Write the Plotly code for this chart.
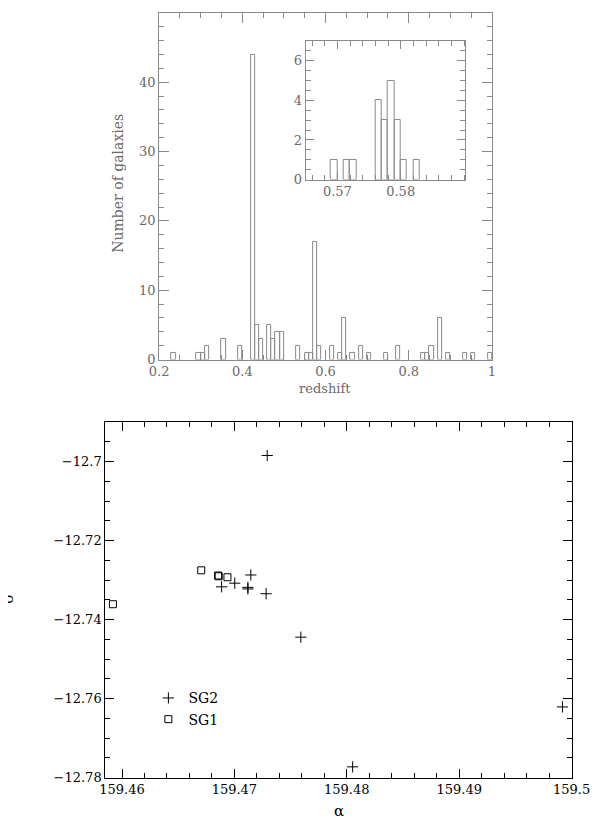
import plotly.graph_objects as go

# ---------------- data ----------------
# main histogram: lower bin edges (bin width 0.01) and counts
hist_bin_lo = [0.23, 0.29, 0.30, 0.31, 0.35, 0.39, 0.42, 0.43, 0.44, 0.46, 0.47,
               0.48, 0.49, 0.53, 0.55, 0.56, 0.57, 0.58, 0.61, 0.63, 0.64, 0.66,
               0.68, 0.70, 0.74, 0.77, 0.83, 0.84, 0.85, 0.87, 0.89, 0.93, 0.95, 0.99]
hist_counts = [1, 1, 1, 2, 3, 2, 44, 5, 3, 5, 3,
               4, 4, 2, 1, 1, 17, 2, 2, 1, 6, 1,
               2, 1, 1, 2, 1, 1, 2, 6, 1, 1, 1, 1]
hist_bin_width = 0.01

# inset histogram: lower bin edges (bin width 0.001) and counts
inset_bin_lo = [0.569, 0.571, 0.572, 0.576, 0.577, 0.578, 0.579, 0.580, 0.582]
inset_counts = [1, 1, 1, 4, 3, 5, 3, 1, 1]
inset_bin_width = 0.001

# sky positions
sg2_alpha = [159.47292, 159.47146, 159.46886, 159.47003, 159.47120, 159.47120,
             159.47282, 159.47591, 159.48052, 159.49919]
sg2_delta = [-12.69842, -12.72867, -12.73167, -12.73075, -12.73180, -12.73220,
             -12.73342, -12.74442, -12.77725, -12.76208]
sg1_alpha = [159.46705, 159.46855, 159.46860, 159.46938, 159.45919]
sg1_delta = [-12.72750, -12.72880, -12.72900, -12.72925, -12.73608]

# ---------------- styling ----------------
W, H = 600, 820
GREY = "#8a8a8a"
GREY_TXT = "#6a6a6a"
FONT = "DejaVu Serif"


def px_x(p):
    return p / W


def px_y(p):
    return (H - p) / H


fig = go.Figure()

fig.add_trace(go.Bar(
    x=hist_bin_lo, y=hist_counts, width=hist_bin_width, offset=0,
    marker=dict(color="rgba(255,255,255,0)", line=dict(color=GREY, width=1)),
    xaxis="x", yaxis="y", showlegend=False, hoverinfo="skip"))

fig.add_trace(go.Bar(
    x=inset_bin_lo, y=inset_counts, width=inset_bin_width, offset=0,
    marker=dict(color="rgba(255,255,255,0)", line=dict(color=GREY, width=1)),
    xaxis="x2", yaxis="y2", showlegend=False, hoverinfo="skip"))

fig.add_trace(go.Scatter(
    x=sg2_alpha, y=sg2_delta, mode="markers", name="SG2",
    marker=dict(symbol="cross-thin", size=8, line=dict(color="black", width=1), color="black"),
    xaxis="x3", yaxis="y3"))

fig.add_trace(go.Scatter(
    x=sg1_alpha, y=sg1_delta, mode="markers", name="SG1",
    marker=dict(symbol="square-open", size=7, line=dict(color="black", width=1), color="black"),
    xaxis="x3", yaxis="y3"))

# empty traces that only create the twin (tick-only) frames of each panel
for xa, ya in (("x4", "y4"), ("x5", "y5"), ("x6", "y6")):
    fig.add_trace(go.Scatter(x=[], y=[], mode="markers", xaxis=xa, yaxis=ya,
                             showlegend=False, hoverinfo="skip"))


def axis(domain, rng, color, txtcolor, anchor, ticklen, minor_dtick, dtick=None,
         tick0=0, tickvals=None, minorlen=5, side=None, labels=True):
    d = dict(domain=domain, range=rng, showline=True, linecolor=color, linewidth=1,
             mirror="ticks", ticks="inside", ticklen=ticklen, tickcolor=color,
             tickwidth=1, showgrid=False, zeroline=False, fixedrange=True,
             showticklabels=labels,
             tickfont=dict(family=FONT, size=13, color=txtcolor), anchor=anchor)
    if side is not None:
        d["side"] = side
    if minor_dtick is not None:
        d["minor"] = dict(dtick=minor_dtick, ticks="inside", ticklen=minorlen,
                          tickcolor=color, tickwidth=1, showgrid=False)
    if dtick is not None:
        d.update(tickmode="linear", dtick=dtick, tick0=tick0)
    if tickvals is not None:
        d.update(tickmode="array", tickvals=tickvals)
    return d


dx1, dy1 = [px_x(148.3), px_x(498)], [px_y(355), px_y(5)]
dx2, dy2 = [px_x(302.3), px_x(470)], [px_y(173.3), px_y(33.3)]
dx3, dy3 = [px_x(91.7), px_x(581.7)], [px_y(777.3), px_y(418.3)]
rx1, ry1 = [0.2, 1.0], [0, 50]
rx2, ry2 = [0.565, 0.5902], [0, 7]
rx3, ry3 = [159.45851, 159.5], [-12.78, -12.69]

layout = dict(
    width=W, height=H, autosize=False,
    margin=dict(l=0, r=0, t=0, b=0),
    paper_bgcolor="white", plot_bgcolor="rgba(0,0,0,0)",
    barmode="overlay", bargap=0,
    font=dict(family=FONT, size=13, color="black"),
    # main histogram
    xaxis=axis(dx1, rx1, GREY, GREY_TXT, "y", 10, 0.05, dtick=0.2),
    yaxis=axis(dy1, ry1, GREY, GREY_TXT, "x", 10, 2, dtick=10),
    xaxis4=axis(dx1, rx1, GREY, GREY_TXT, "y4", 10, 0.05, dtick=0.2, side="top",
                labels=False),
    yaxis4=axis(dy1, ry1, GREY, GREY_TXT, "x4", 10, 2, dtick=10, side="right",
                labels=False),
    # inset
    xaxis2=axis(dx2, rx2, GREY, GREY_TXT, "y2", 8, 0.002, tickvals=[0.57, 0.58]),
    yaxis2=axis(dy2, ry2, GREY, GREY_TXT, "x2", 8, 0.5, tickvals=[0, 2, 4, 6]),
    xaxis5=axis(dx2, rx2, GREY, GREY_TXT, "y5", 8, 0.002, tickvals=[0.57, 0.58],
                side="top", labels=False),
    yaxis5=axis(dy2, ry2, GREY, GREY_TXT, "x5", 8, 0.5, tickvals=[0, 2, 4, 6],
                side="right", labels=False),
    # positions panel
    xaxis3=axis(dx3, rx3, "black", "black", "y3", 9, 0.002, dtick=0.01),
    yaxis3=axis(dy3, ry3, "black", "black", "x3", 9, 0.005, dtick=0.02, tick0=-12.78),
    xaxis6=axis(dx3, rx3, "black", "black", "y6", 9, 0.002, dtick=0.01, side="top",
                labels=False),
    yaxis6=axis(dy3, ry3, "black", "black", "x6", 9, 0.005, dtick=0.02, tick0=-12.78,
                side="right", labels=False),
    legend=dict(x=px_x(137), y=px_y(681), xanchor="left", yanchor="top",
                bgcolor="rgba(0,0,0,0)", borderwidth=0,
                font=dict(family=FONT, size=14, color="black"),
                itemwidth=30, tracegroupgap=0),
    showlegend=True,
    annotations=[
        dict(text="Number of galaxies", x=px_x(105), y=px_y(176.5), xref="paper", yref="paper",
             showarrow=False, textangle=-90, font=dict(family=FONT, size=14, color=GREY_TXT),
             xanchor="center", yanchor="middle"),
        dict(text="redshift", x=px_x(323), y=px_y(384), xref="paper", yref="paper",
             showarrow=False, font=dict(family=FONT, size=13, color=GREY_TXT),
             xanchor="center", yanchor="middle"),
        dict(text="α", x=px_x(337), y=px_y(811), xref="paper", yref="paper",
             showarrow=False, font=dict(family=FONT, size=15, color="black"),
             xanchor="center", yanchor="middle"),
        dict(text="δ", x=px_x(-10), y=px_y(597), xref="paper", yref="paper",
             showarrow=False, textangle=-90, font=dict(family=FONT, size=15, color="black"),
             xanchor="center", yanchor="middle"),
    ],
)

fig.update_layout(**layout)
fig.write_html("out.html")
